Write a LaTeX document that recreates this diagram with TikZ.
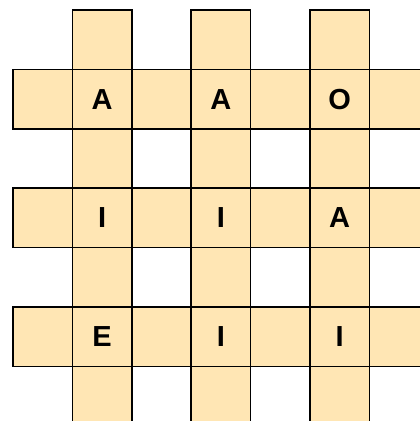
\documentclass[tikz,border=0pt]{standalone}
\usepackage{fontspec}
\setmainfont{Liberation Sans}
\definecolor{cellfill}{HTML}{FFE6B4}
\tikzset{
  cell/.style={fill=cellfill, draw=black, line width=1.6pt},
  letter/.style={font=\fontsize{29}{29}\selectfont\bfseries, inner sep=0pt, anchor=center}
}
\begin{document}
\begin{tikzpicture}[x=1pt,y=-1pt]
\useasboundingbox (0,0) rectangle (420,421);
\clip (0,0) rectangle (420,421);
\def\s{59.4}
% horizontal strips
\foreach \r in {1,3,5}{
  \foreach \c in {0,...,7}{
    \draw[cell] ({13+\c*\s},{10+\r*\s}) rectangle ++(\s,\s);
  }
}
% vertical strips
\foreach \c in {1,3,5}{
  \foreach \r in {0,...,7}{
    \draw[cell] ({13+\c*\s},{10+\r*\s}) rectangle ++(\s,\s);
  }
}
% letters
\node[letter] (a11) at (102.1,99.1) {A};
\node[letter] (a13) at (220.9,99.1) {A};
\node[letter] (a15) at (339.7,99.1) {O};
\node[letter] (a31) at (102.1,217.9) {I};
\node[letter] (a33) at (220.9,217.9) {I};
\node[letter] (a35) at (339.7,217.9) {A};
\node[letter] (a51) at (102.1,336.7) {E};
\node[letter] (a53) at (220.9,336.7) {I};
\node[letter] (a55) at (339.7,336.7) {I};
\end{tikzpicture}
\end{document}
